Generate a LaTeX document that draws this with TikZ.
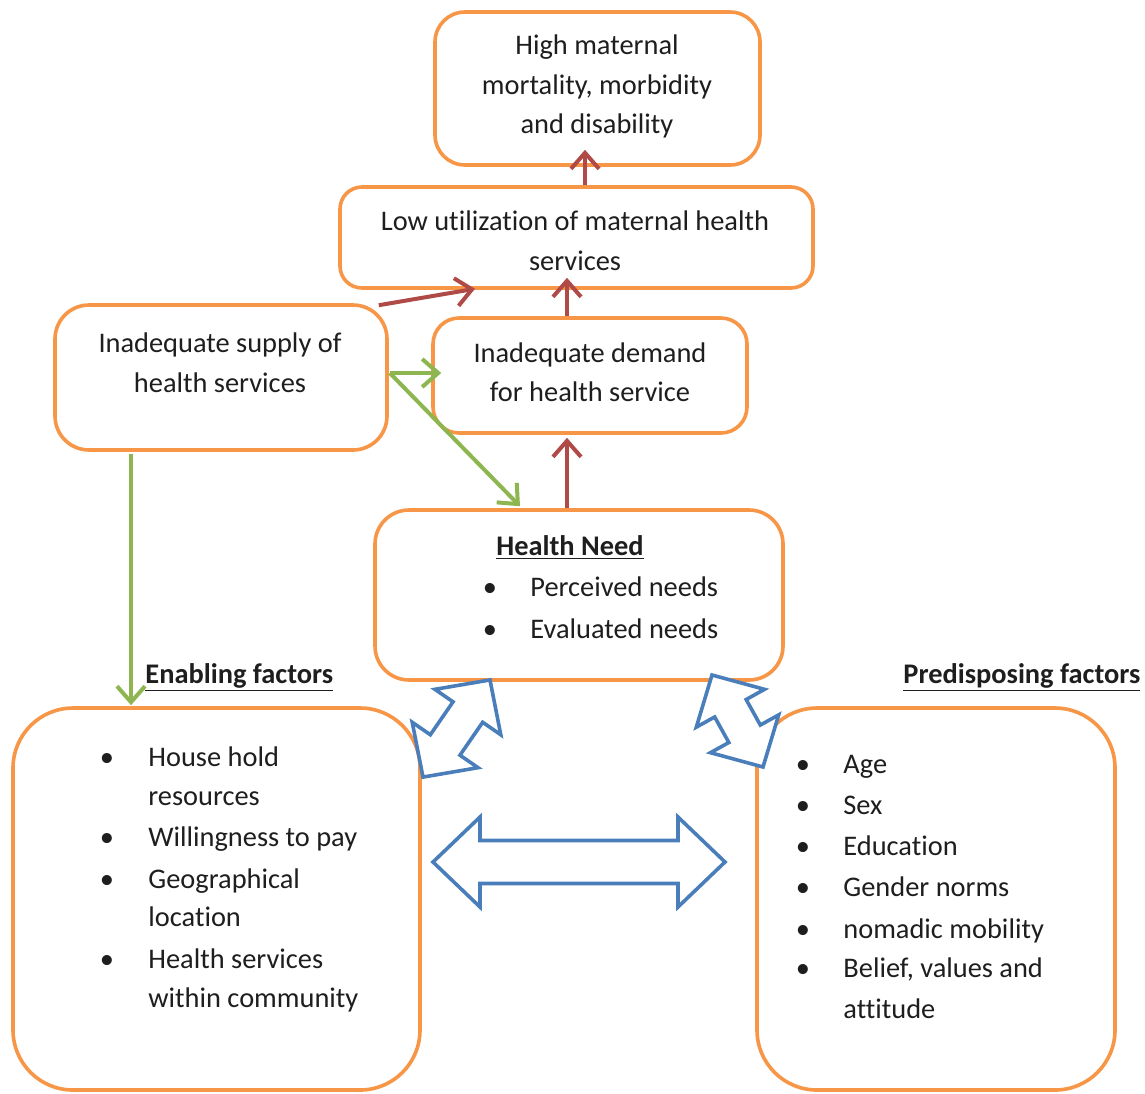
\documentclass[tikz,border=0pt]{standalone}
\usepackage{fontspec}
\setmainfont{Carlito}[Ligatures={NoCommon}]
\usetikzlibrary{arrows.meta,calc}
\definecolor{boxorange}{HTML}{F79646}
\definecolor{arrred}{HTML}{B04A47}
\definecolor{arrgreen}{HTML}{8DB650}
\definecolor{arrblue}{HTML}{4A7EBB}
\definecolor{ink}{HTML}{1E1E1E}

% outlined two-way block arrow: centre x, centre y, angle, half length,
% head length, head half-width, shaft half-width
\newcommand\twowayarrow[7]{%
  \begin{scope}[shift={(#1,#2)}, rotate=#3]
    \draw[blockarrow] (-#4,0) -- ({-#4+#5},#6) -- ({-#4+#5},#7) -- ({#4-#5},#7)
      -- ({#4-#5},#6) -- (#4,0) -- ({#4-#5},-#6) -- ({#4-#5},-#7)
      -- ({-#4+#5},-#7) -- ({-#4+#5},-#6) -- cycle;
  \end{scope}}

\begin{document}
\begin{tikzpicture}[x=0.5pt,y=-0.5pt,
  box/.style={draw=boxorange, line width=1.8pt, rectangle, inner sep=0pt, fill=white},
  para/.style={font=\fontsize{14.2}{19.75}\selectfont, text=ink, align=center, inner sep=0pt},
  item/.style={font=\fontsize{14.2}{19.75}\selectfont, text=ink, inner sep=0pt,
    text height=11pt, text depth=3pt, anchor=west},
  dot/.style={font=\fontsize{14.2}{19.75}\selectfont, text=ink, inner sep=0pt,
    text height=11pt, text depth=3pt},
  heading/.style={font=\fontsize{14.2}{19.75}\selectfont\bfseries, text=ink, inner sep=0pt,
    text height=11pt, text depth=3pt},
  redarrow/.style={draw=arrred, line width=2pt, -{Straight Barb[length=8pt,width=14pt]}},
  greenarrow/.style={draw=arrgreen, line width=2pt, -{Straight Barb[length=8pt,width=14pt]}},
  blockarrow/.style={draw=arrblue, line width=1.8pt, fill=white, line join=miter},
]
\useasboundingbox (0,0) rectangle (1145,1093);

% boxes
\node[box, rounded corners=15pt, minimum width=162.5pt, minimum height=76.5pt] (top) at (597.5,88.5) {};
\node[box, rounded corners=11pt, minimum width=236.5pt, minimum height=50.5pt] (low) at (576.5,237.5) {};
\node[box, rounded corners=17pt, minimum width=166pt, minimum height=72.5pt] (supply) at (221,377.5) {};
\node[box, rounded corners=13pt, minimum width=157pt, minimum height=57.5pt] (demand) at (590,375.5) {};
\node[box, rounded corners=17pt, minimum width=204pt, minimum height=85pt] (need) at (579,595) {};
\node[box, rounded corners=30pt, minimum width=203.5pt, minimum height=191pt] (enabling) at (216.5,899) {};
\node[box, rounded corners=30pt, minimum width=179pt, minimum height=191pt] (predisp) at (936,899) {};

% box texts
\node[para] (toptext) at (597,86.5) {High maternal\\mortality, morbidity\\and disability};
\node[para] (lowtext) at (575,240.5) {Low utilization of maternal health\\services};
\node[para] (supplytext) at (220,362.5) {Inadequate supply of\\health services};
\node[para] (demandtext) at (590,372) {Inadequate demand\\for health service};

% health need
\node[heading] (needhead) at (570,547) {\underline{Health Need}};
\node[dot] (nd1) at (490,588) {•};
\node[item] (ni1) at (530,588) {Perceived needs};
\node[dot] (nd2) at (490,630) {•};
\node[item] (ni2) at (530,630) {Evaluated needs};

% headings over the lower boxes
\node[heading, anchor=west] (enhead) at (145,675) {\underline{Enabling factors}};
\node[heading, anchor=west] (prhead) at (903,675) {\underline{Predisposing factors}};

% enabling factors
\foreach \y/\t [count=\i] in {758/House hold, 797/resources, 838/Willingness to pay,
    880/Geographical, 918/location, 960/Health services, 999/within community}
  \node[item] (ei\i) at (148,\y) {\t};
\foreach \y [count=\i] in {758, 838, 880, 960}
  \node[dot] (ed\i) at (107,\y) {•};

% predisposing factors
\foreach \y/\t [count=\i] in {765/Age, 806/Sex, 847/Education, 888/Gender norms,
    930/nomadic mobility, 969/{Belief, values and}, 1010/attitude}
  \node[item] (pi\i) at (843,\y) {\t};
\foreach \y [count=\i] in {765, 806, 847, 888, 930, 969}
  \node[dot] (pd\i) at (803,\y) {•};

% red causal arrows
\draw[redarrow] ($(low.north)+(8.5,0)$) -- ($(top.south)+(-12.5,-17)$);
\draw[redarrow] ($(demand.north)+(-23,0)$) -- ($(low.south)+(-9.5,-12)$);
\draw[redarrow] ($(need.north)+(-12,0)$) -- ($(demand.south)+(-23,3)$);
\draw[redarrow] ($(supply.north east)+(-10,2)$) -- ($(low.south)+(-101.5,-1)$);

% green arrows from supply
\draw[greenarrow] ($(supply.east)+(1,-4.5)$) -- ($(demand.west)+(10,-2.5)$);
\draw[greenarrow] ($(supply.east)+(1,-4.5)$) -- ($(need.north)+(-59,-2)$);
\draw[greenarrow] ($(supply.south)+(-90,2)$) -- ($(enabling.north)+(-85.5,-1)$);

% two-way block arrows
\twowayarrow{579}{862}{0}{146}{47}{45}{21.5}
\twowayarrow{456.5}{728.5}{55.4}{59}{39}{40}{18}
\twowayarrow{737.5}{721}{-61}{52.6}{38}{39}{18}
\end{tikzpicture}
\end{document}
